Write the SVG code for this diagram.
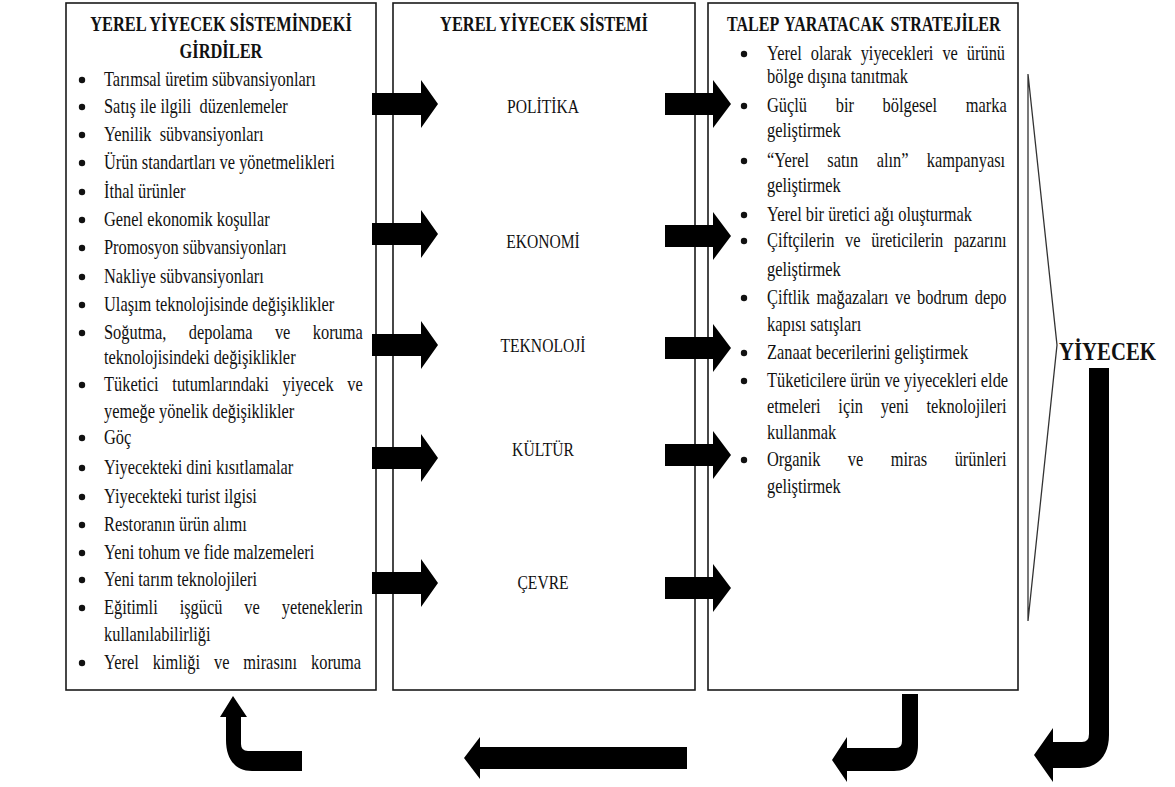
<svg xmlns="http://www.w3.org/2000/svg" width="1175" height="787" viewBox="0 0 1175 787">
  <style>
    .box { fill: #fff; stroke: #1a1a1a; stroke-width: 1.6; }
    .t { font-family: "Liberation Serif", "Times New Roman", serif; font-size: 20.5px; fill: #111; }
    .h { font-weight: bold; }
    .c { text-anchor: middle; }
    .lbl { font-size: 19.5px; }
    .dot { fill: #111; }
    .arrow { fill: #000; }
    .chev { fill: #fff; stroke: #333; stroke-width: 1.3; stroke-linejoin: miter; }
  </style>
  <rect width="1175" height="787" fill="#fff"/>

  <!-- Inputs to the local food system -->
  <g id="node-inputs">
    <rect class="box" x="66" y="3" width="310" height="687"/>
    <text class="t h c" transform="translate(221 31) scale(.8 1)">YEREL YİYECEK SİSTEMİNDEKİ</text>
    <text class="t h c" transform="translate(221 58) scale(.8 1)">GİRDİLER</text>
    <g>
      <circle class="dot" cx="82" cy="80" r="3.2"/>
      <circle class="dot" cx="82" cy="107" r="3.2"/>
      <circle class="dot" cx="82" cy="135" r="3.2"/>
      <circle class="dot" cx="82" cy="163" r="3.2"/>
      <circle class="dot" cx="82" cy="192" r="3.2"/>
      <circle class="dot" cx="82" cy="220" r="3.2"/>
      <circle class="dot" cx="82" cy="248" r="3.2"/>
      <circle class="dot" cx="82" cy="277" r="3.2"/>
      <circle class="dot" cx="82" cy="305" r="3.2"/>
      <circle class="dot" cx="82" cy="333" r="3.2"/>
      <circle class="dot" cx="82" cy="385" r="3.2"/>
      <circle class="dot" cx="82" cy="438" r="3.2"/>
      <circle class="dot" cx="82" cy="468" r="3.2"/>
      <circle class="dot" cx="82" cy="497" r="3.2"/>
      <circle class="dot" cx="82" cy="525" r="3.2"/>
      <circle class="dot" cx="82" cy="553" r="3.2"/>
      <circle class="dot" cx="82" cy="580" r="3.2"/>
      <circle class="dot" cx="82" cy="608" r="3.2"/>
      <circle class="dot" cx="82" cy="663" r="3.2"/>
    </g>
    <text class="t" transform="translate(104 86) scale(.8 1)">Tarımsal üretim sübvansiyonları</text>
    <text class="t" transform="translate(104 113) scale(.8 1)">Satış ile ilgili &#160;düzenlemeler</text>
    <text class="t" transform="translate(104 141) scale(.8 1)">Yenilik &#160;sübvansiyonları</text>
    <text class="t" transform="translate(104 169) scale(.8 1)">Ürün standartları ve yönetmelikleri</text>
    <text class="t" transform="translate(104 198) scale(.8 1)">İthal ürünler</text>
    <text class="t" transform="translate(104 226) scale(.8 1)">Genel ekonomik koşullar</text>
    <text class="t" transform="translate(104 254) scale(.8 1)">Promosyon sübvansiyonları</text>
    <text class="t" transform="translate(104 283) scale(.8 1)">Nakliye sübvansiyonları</text>
    <text class="t" transform="translate(104 311) scale(.8 1)">Ulaşım teknolojisinde değişiklikler</text>
    <text class="t" transform="translate(104 339) scale(.8 1)" style="word-spacing:22.9px">Soğutma, depolama ve koruma</text>
    <text class="t" transform="translate(104 364) scale(.8 1)">teknolojisindeki değişiklikler</text>
    <text class="t" transform="translate(104 391) scale(.8 1)" style="word-spacing:12.1px">Tüketici tutumlarındaki yiyecek ve</text>
    <text class="t" transform="translate(104 418) scale(.8 1)">yemeğe yönelik değişiklikler</text>
    <text class="t" transform="translate(104 444) scale(.8 1)">Göç</text>
    <text class="t" transform="translate(104 474) scale(.8 1)">Yiyecekteki dini kısıtlamalar</text>
    <text class="t" transform="translate(104 503) scale(.8 1)">Yiyecekteki turist ilgisi</text>
    <text class="t" transform="translate(104 531) scale(.8 1)">Restoranın ürün alımı</text>
    <text class="t" transform="translate(104 559) scale(.8 1)">Yeni tohum ve fide malzemeleri</text>
    <text class="t" transform="translate(104 586) scale(.8 1)">Yeni tarım teknolojileri</text>
    <text class="t" transform="translate(104 614) scale(.8 1)" style="word-spacing:22.3px">Eğitimli işgücü ve yeteneklerin</text>
    <text class="t" transform="translate(104 641) scale(.8 1)">kullanılabilirliği</text>
    <text class="t" transform="translate(104 669) scale(.8 1)" style="word-spacing:12.3px">Yerel kimliği ve mirasını koruma</text>
  </g>

  <!-- The local food system -->
  <g id="node-system">
    <rect class="box" x="393" y="3" width="302" height="687"/>
    <text class="t h c" transform="translate(544 31) scale(.8 1)">YEREL YİYECEK SİSTEMİ</text>
    <text class="t lbl c" transform="translate(543 113) scale(.8 1)">POLİTİKA</text>
    <text class="t lbl c" transform="translate(543 248) scale(.8 1)">EKONOMİ</text>
    <text class="t lbl c" transform="translate(543 352) scale(.8 1)">TEKNOLOJİ</text>
    <text class="t lbl c" transform="translate(543 456) scale(.8 1)">KÜLTÜR</text>
    <text class="t lbl c" transform="translate(543 589) scale(.8 1)">ÇEVRE</text>
  </g>

  <!-- Demand-creating strategies -->
  <g id="node-strategies">
    <rect class="box" x="708" y="3" width="310" height="687"/>
    <text class="t h" transform="translate(727 31) scale(.8 1)" style="font-size:20px;word-spacing:3px">TALEP YARATACAK STRATEJİLER</text>
    <g>
      <circle class="dot" cx="744" cy="54" r="3.2"/>
      <circle class="dot" cx="744" cy="106" r="3.2"/>
      <circle class="dot" cx="744" cy="161" r="3.2"/>
      <circle class="dot" cx="744" cy="215" r="3.2"/>
      <circle class="dot" cx="744" cy="241" r="3.2"/>
      <circle class="dot" cx="744" cy="298" r="3.2"/>
      <circle class="dot" cx="744" cy="353" r="3.2"/>
      <circle class="dot" cx="744" cy="381" r="3.2"/>
      <circle class="dot" cx="744" cy="460" r="3.2"/>
    </g>
    <text class="t" transform="translate(767 60) scale(.8 1)" style="word-spacing:6.1px">Yerel olarak yiyecekleri ve ürünü</text>
    <text class="t" transform="translate(767 83) scale(.8 1)">bölge dışına tanıtmak</text>
    <text class="t" transform="translate(767 112) scale(.8 1)" style="word-spacing:30.7px">Güçlü bir bölgesel marka</text>
    <text class="t" transform="translate(767 137) scale(.8 1)">geliştirmek</text>
    <text class="t" transform="translate(767 167) scale(.8 1)" style="word-spacing:17.8px">“Yerel satın alın” kampanyası</text>
    <text class="t" transform="translate(767 192) scale(.8 1)">geliştirmek</text>
    <text class="t" transform="translate(767 221) scale(.8 1)">Yerel bir üretici ağı oluşturmak</text>
    <text class="t" transform="translate(767 247) scale(.8 1)" style="word-spacing:8.3px">Çiftçilerin ve üreticilerin pazarını</text>
    <text class="t" transform="translate(767 276) scale(.8 1)">geliştirmek</text>
    <text class="t" transform="translate(767 304) scale(.8 1)" style="word-spacing:3.2px">Çiftlik mağazaları ve bodrum depo</text>
    <text class="t" transform="translate(767 331) scale(.8 1)">kapısı satışları</text>
    <text class="t" transform="translate(767 359) scale(.8 1)">Zanaat becerilerini geliştirmek</text>
    <text class="t" transform="translate(767 387) scale(.8 1)">Tüketicilere ürün ve yiyecekleri elde</text>
    <text class="t" transform="translate(767 413) scale(.8 1)" style="word-spacing:17px">etmeleri için yeni teknolojileri</text>
    <text class="t" transform="translate(767 439) scale(.8 1)">kullanmak</text>
    <text class="t" transform="translate(767 466) scale(.8 1)" style="word-spacing:29.2px">Organik ve miras ürünleri</text>
    <text class="t" transform="translate(767 493) scale(.8 1)">geliştirmek</text>
  </g>

  <!-- Outcome: food -->
  <g id="node-food">
    <path class="chev" d="M1028,74 L1057,345 L1028,621 Z"/>
    <text class="t h" transform="translate(1059 360) scale(.8 1)" style="font-size:26px">YİYECEK</text>
  </g>

  <!-- Flow arrows -->
  <g id="connectors">
    <!-- inputs into the system -->
    <path class="arrow" d="M372,93 H421 V80 L438,104 L421,128 V115 H372 Z"/>
    <path class="arrow" d="M372,223 H421 V210 L438,234 L421,258 V245 H372 Z"/>
    <path class="arrow" d="M372,334 H421 V321 L438,345 L421,369 V356 H372 Z"/>
    <path class="arrow" d="M372,447 H421 V434 L438,458 L421,482 V469 H372 Z"/>
    <path class="arrow" d="M372,572 H421 V559 L438,583 L421,607 V594 H372 Z"/>
    <!-- system into strategies -->
    <path class="arrow" d="M665,93 H713 V80 L731,104 L713,128 V115 H665 Z"/>
    <path class="arrow" d="M665,225 H713 V212 L731,236 L713,260 V247 H665 Z"/>
    <path class="arrow" d="M665,337 H713 V324 L731,348 L713,372 V359 H665 Z"/>
    <path class="arrow" d="M665,444 H713 V431 L731,455 L713,479 V466 H665 Z"/>
    <path class="arrow" d="M665,577 H713 V564 L731,588 L713,612 V599 H665 Z"/>
    <!-- feedback loop along the bottom -->
    <path class="arrow" d="M1109,368 L1109,735 C1109,756 1097,768 1080,768 L1053,768 L1053,782 L1034,755 L1053,728 L1053,742 L1082,742 Q1089,742 1089,734 L1089,368 Z"/>
    <path class="arrow" d="M918,694 L918,745 C918,762 908,771 894,771 L847,771 L847,782 L832,760 L847,737 L847,748 L896,748 Q902,748 902,741 L902,694 Z"/>
    <path class="arrow" d="M464,758 L480,737 L480,747 L687,747 L687,769 L480,769 L480,779 Z"/>
    <path class="arrow" d="M233,696 L247,717 L241,717 L241,744 Q241,751 248,751 L302,751 L302,771 L252,771 C236,771 226,760 226,740 L226,717 L220,717 Z"/>
  </g>
</svg>
